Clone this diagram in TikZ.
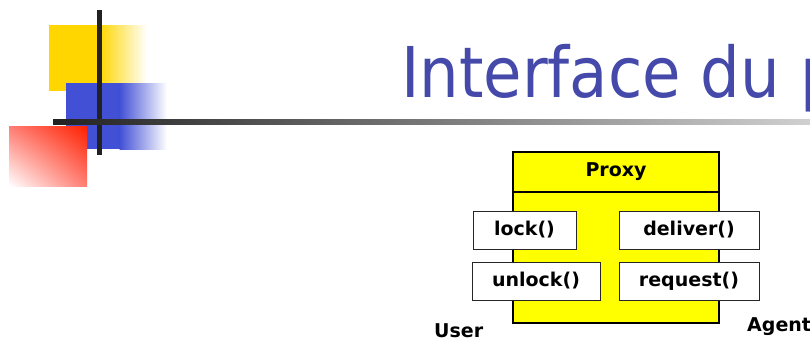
\documentclass[tikz,border=0pt]{standalone}
\usepackage{fontspec}
\usetikzlibrary{shadings}
\setmainfont{DejaVu Sans}
\definecolor{titleblue}{RGB}{68,73,170}
\definecolor{deco yellow}{RGB}{255,214,0}
\definecolor{deco blue}{RGB}{66,80,214}
\definecolor{deco red}{RGB}{255,32,0}
\definecolor{deco pink}{RGB}{255,125,115}
\definecolor{bar dark}{RGB}{34,34,34}
\definecolor{bar light}{RGB}{208,208,208}
\definecolor{proxy yellow}{RGB}{255,255,0}
\tikzset{
  method/.style={draw=black!85, line width=0.9pt, fill=white, minimum height=38pt,
    inner sep=0pt, font=\fontsize{19}{22}\selectfont\bfseries},
  proxybox/.style={draw=black, line width=1.4pt, fill=proxy yellow},
  label text/.style={inner sep=0pt, font=\fontsize{19}{22}\selectfont\bfseries},
}
\begin{document}
\begin{tikzpicture}[x=1pt,y=1pt]
\useasboundingbox (0,0) rectangle (810,-338);
\clip (0,0) rectangle (810,-338);
% decoration
\fill[deco yellow] (49,-25) rectangle (100,-91);
\shade[left color=deco yellow, right color=white] (99.5,-25) rectangle (147,-91);
\fill[deco blue] (66,-83) rectangle (120,-149);
\shade[left color=deco blue, right color=white] (119.5,-83) rectangle (167,-149);
\shade[upper right=deco red, lower left=white, upper left=deco pink, lower right=deco pink]
  (9,-126) rectangle (87,-186);
\fill[bar dark] (97,-10) rectangle (102,-155);
\shade[left color=bar dark, right color=bar light] (53,-119) rectangle (810,-124);
% title
\node[anchor=base west, inner sep=0pt, text=titleblue] (title) at (401,-97)
  {\scalebox{0.893}[1]{\fontsize{70}{80}\selectfont Interface du proxy}};
% proxy
\draw[proxybox] (513,-152) rectangle (719,-323);
\draw[proxybox] (513,-152) rectangle (719,-192);
\node[label text] (proxy) at (616,-172) {Proxy};
\node[method, minimum width=103pt] (lock) at (524.5,-230) {lock()};
\node[method, minimum width=140pt] (deliver) at (689,-230) {deliver()};
\node[method, minimum width=128pt] (unlock) at (536,-281) {unlock()};
\node[method, minimum width=140pt] (request) at (689,-281) {request()};
\node[label text, anchor=base west] (user) at (434,-337) {User};
\node[label text, anchor=base west] (agent) at (747,-331) {Agent};
\end{tikzpicture}
\end{document}
